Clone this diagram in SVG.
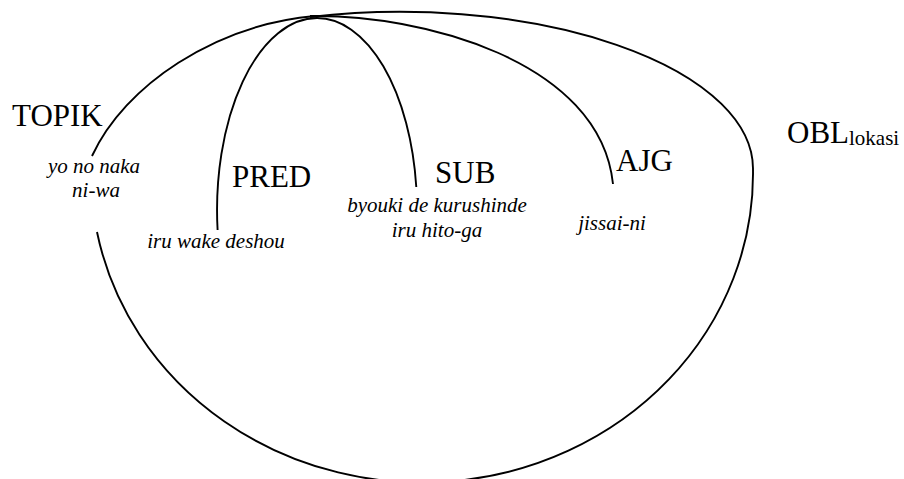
<svg xmlns="http://www.w3.org/2000/svg" width="904" height="479" viewBox="0 0 904 479" font-family="'Liberation Serif', 'Times New Roman', Times, serif">
<style>
.c{fill:none;stroke:#000;stroke-width:1.9}
.lab{font-size:31px;fill:#000}
.it{font-size:21px;font-style:italic;fill:#000;text-anchor:middle}
.sub{font-size:21px;fill:#000}
</style>
<rect width="904" height="479" fill="#fff"/>
<g id="connectors">
<path class="c" d="M92,156 C125,85 215,25 315,16"/>
<path class="c" d="M217.6,230 A100,192 0 0 1 317,18 A100,192 0 0 1 416.3,187"/>
<path class="c" d="M310,16 C420,14 600,60 613,184"/>
<path class="c" d="M310,17 A353,157 0 0 1 753,170"/>
<path class="c" d="M753,170 A331,309 0 0 1 97,232"/>
</g>
<g id="topik">
<text class="lab" x="12" y="126" font-family="Liberation Serif, serif">TOPIK</text>
<text class="it" x="94" y="173" font-family="Liberation Serif, serif">yo no naka</text>
<text class="it" x="96" y="197" font-family="Liberation Serif, serif">ni-wa</text>
</g>
<g id="pred">
<text class="lab" x="232" y="187" font-family="Liberation Serif, serif">PRED</text>
<text class="it" x="216" y="248" font-family="Liberation Serif, serif">iru wake deshou</text>
</g>
<g id="sub">
<text class="lab" x="435" y="183" font-family="Liberation Serif, serif">SUB</text>
<text class="it" x="437" y="212" font-family="Liberation Serif, serif">byouki de kurushinde</text>
<text class="it" x="437" y="237" font-family="Liberation Serif, serif">iru hito-ga</text>
</g>
<g id="ajg">
<text class="lab" x="616" y="171" font-family="Liberation Serif, serif">AJG</text>
<text class="it" x="612" y="230" font-family="Liberation Serif, serif">jissai-ni</text>
</g>
<g id="obl">
<text class="lab" x="787" y="143" font-family="Liberation Serif, serif">OBL<tspan class="sub" dy="2">lokasi</tspan></text>
</g>
</svg>
